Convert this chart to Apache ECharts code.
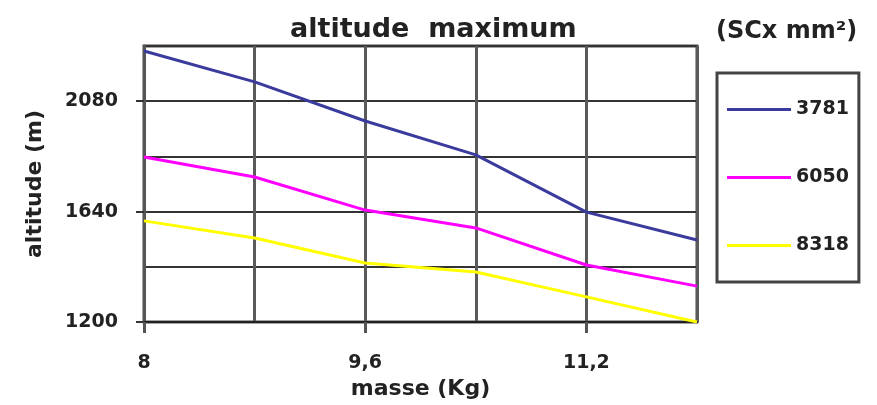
<!DOCTYPE html>
<html>
<head>
<meta charset="utf-8">
<script src="https://cdn.jsdelivr.net/npm/echarts@6/dist/echarts.min.js"></script>
<style>
  html, body { margin: 0; padding: 0; background: #fff; }
  #chart { width: 877px; height: 405px; }
</style>
</head>
<body>
<div id="chart"></div>
<script>
// masse (Kg)
var masses = [8, 8.8, 9.6, 10.4, 11.2, 12];
// altitude max (m) par SCx
var alt3781 = [2280, 2157, 2001, 1866, 1638, 1527];
var alt6050 = [1858, 1778, 1646, 1575, 1427, 1343];
var alt8318 = [1603, 1535, 1435, 1399, 1300, 1200];
var seriesNames = ["3781", "6050", "8318"];
// graduations affichees
var xTickValues = [8, 9.6, 11.2];
var yTickValues = [1200, 1640, 2080];

var font = "DejaVu Sans";
var chart = echarts.init(document.getElementById("chart"));

function pairs(ys) {
  return masses.map(function (m, i) { return [m, ys[i]]; });
}

function lineSerie(name, ys, color) {
  return {
    name: name,
    type: "line",
    symbol: "none",
    smooth: false,
    lineStyle: { color: color, width: 3 },
    itemStyle: { color: color },
    data: pairs(ys)
  };
}

var labelStyle = { fontFamily: font, fontSize: 19, fontWeight: "bold", color: "#222" };
var nameStyle = { fontFamily: font, fontSize: 22, fontWeight: "bold", color: "#222" };

var option = {
  backgroundColor: "#fff",
  animation: false,
  title: [
    {
      text: "altitude  maximum",
      left: 290,
      top: 16,
      padding: 0,
      textStyle: { fontFamily: font, fontSize: 27, fontWeight: "bold", color: "#222" }
    },
    {
      text: "(SCx mm²)",
      left: 716,
      top: 20,
      padding: 0,
      textStyle: { fontFamily: font, fontSize: 24, fontWeight: "bold", color: "#222" }
    }
  ],
  grid: {
    left: 144,
    right: 180,
    top: 46,
    bottom: 83,
    show: true,
    borderColor: "#4a4a4a",
    borderWidth: 3
  },
  legend: {
    orient: "vertical",
    left: 717,
    top: 73,
    padding: [27, 10, 27, 10],
    itemGap: 49,
    itemWidth: 64,
    itemHeight: 3,
    icon: "rect",
    borderColor: "#444",
    borderWidth: 3,
    data: seriesNames,
    textStyle: labelStyle
  },
  xAxis: [
    {
      type: "value",
      min: 8,
      max: 12,
      interval: 0.8,
      name: "masse (Kg)",
      nameLocation: "middle",
      nameGap: 50,
      nameTextStyle: nameStyle,
      axisLine: { show: true, lineStyle: { color: "#222", width: 2 } },
      axisTick: { show: false },
      axisLabel: Object.assign({
        customValues: xTickValues,
        margin: 32,
        formatter: function (v) { return String(v).replace(".", ","); }
      }, labelStyle),
      splitLine: { show: true, lineStyle: { color: "#5a5a5a", width: 3 } }
    },
    {
      // petites graduations sous les valeurs affichees
      type: "value",
      position: "bottom",
      min: 8,
      max: 12,
      interval: 0.8,
      axisLine: { show: false },
      axisTick: { show: true, customValues: xTickValues, length: 11, lineStyle: { color: "#555", width: 3 } },
      axisLabel: { show: false },
      splitLine: { show: false }
    }
  ],
  yAxis: [
    {
      type: "value",
      min: 1200,
      max: 2300,
      interval: 220,
      name: "altitude (m)",
      nameLocation: "middle",
      nameRotate: 90,
      nameGap: 98,
      nameTextStyle: nameStyle,
      axisLine: { show: true, lineStyle: { color: "#555", width: 3 } },
      axisTick: { show: false },
      axisLabel: Object.assign({
        customValues: yTickValues,
        margin: 26,
        formatter: function (v) { return String(v); }
      }, labelStyle),
      splitLine: { show: true, lineStyle: { color: "#333", width: 2 } }
    },
    {
      type: "value",
      position: "left",
      min: 1200,
      max: 2300,
      interval: 220,
      axisLine: { show: false },
      axisTick: { show: true, customValues: yTickValues, length: 8, lineStyle: { color: "#333", width: 2 } },
      axisLabel: { show: false },
      splitLine: { show: false }
    }
  ],
  series: [
    lineSerie(seriesNames[0], alt3781, "#3b3b9e"),
    lineSerie(seriesNames[1], alt6050, "#ff00ff"),
    lineSerie(seriesNames[2], alt8318, "#ffff00")
  ]
};

chart.setOption(option);
</script>
</body>
</html>
